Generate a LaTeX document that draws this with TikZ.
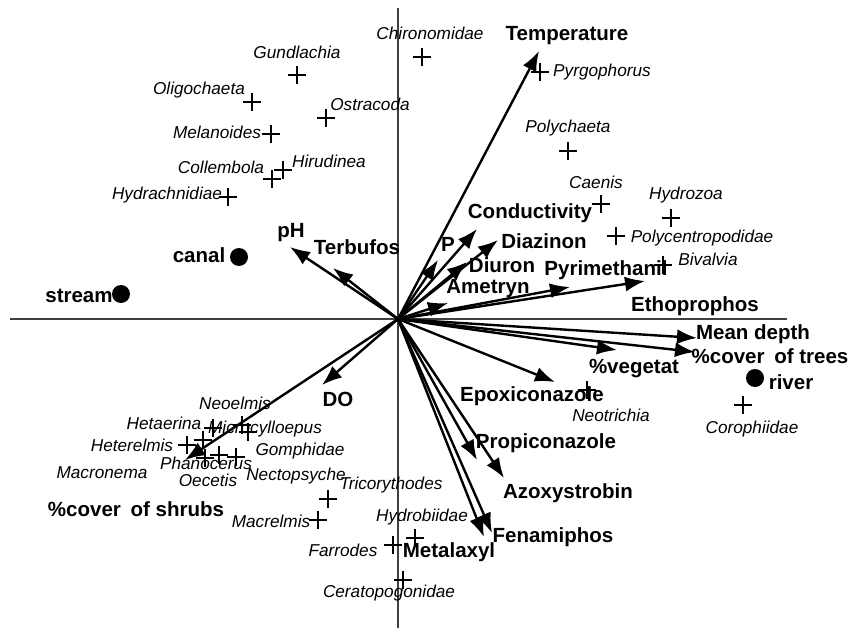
\documentclass[tikz,border=0pt]{standalone}
\usepackage{fontspec}
\setmainfont{Liberation Sans}
\usepackage{tikz}
\usetikzlibrary{arrows.meta}

\begin{document}
\begin{tikzpicture}[x=1pt,y=-1pt]
                      \tikzstyle{var}=[font=\bfseries\fontsize{20.5}{23}\selectfont,inner sep=0pt]
                      \tikzstyle{spp}=[font=\itshape\fontsize{17.2}{20}\selectfont,inner sep=0pt]
                      \tikzstyle{site}=[circle,fill=black,inner sep=0pt,minimum size=18pt]
                      \tikzstyle{taxon}=[inner sep=0pt,minimum size=18pt,path picture={\draw[line width=1.3pt] (path picture bounding box.north) -- (path picture bounding box.south) (path picture bounding box.west) -- (path picture bounding box.east);}]
                      \tikzstyle{vec}=[line width=2.4pt,-{Latex[length=20pt,width=15pt]}]
                      \tikzstyle{axis}=[line width=1.1pt,draw=black!75]
                      \useasboundingbox (0,0) rectangle (859,628);
                      % axes
                      \coordinate (o) at (398,319);
                      \coordinate (ytop) at (398,8);
                      \coordinate (ybot) at (398,628);
                      \coordinate (xlft) at (10,319);
                      \coordinate (xrgt) at (787,319);
                      \draw[axis] (ytop) -- (ybot);
                      \draw[axis] (xlft) -- (xrgt);
                      % arrow tips
                      \coordinate (temp) at (539,51);
                      \coordinate (cond) at (477,229);
                      \coordinate (diaz) at (498,240);
                      \coordinate (pp) at (438,260);
                      \coordinate (diur) at (467,262);
                      \coordinate (amet) at (448,303);
                      \coordinate (pyri) at (570,287);
                      \coordinate (etho) at (645,281);
                      \coordinate (depth) at (697,338);
                      \coordinate (trees) at (695,352);
                      \coordinate (veg) at (617,350);
                      \coordinate (epox) at (555,382);
                      \coordinate (propi) at (477,460);
                      \coordinate (azoxy) at (504,478);
                      \coordinate (fenam) at (492,533);
                      \coordinate (metal) at (484,537);
                      \coordinate (shrub) at (185,460);
                      \coordinate (do) at (322,385);
                      \coordinate (ph) at (290,247);
                      \coordinate (terb) at (333,268);
                      \draw[vec] (o) -- (temp);
                      \draw[vec] (o) -- (cond);
                      \draw[vec] (o) -- (diaz);
                      \draw[vec] (o) -- (pp);
                      \draw[vec] (o) -- (diur);
                      \draw[vec] (o) -- (amet);
                      \draw[vec] (o) -- (pyri);
                      \draw[vec] (o) -- (etho);
                      \draw[vec] (o) -- (depth);
                      \draw[vec] (o) -- (trees);
                      \draw[vec] (o) -- (veg);
                      \draw[vec] (o) -- (epox);
                      \draw[vec] (o) -- (propi);
                      \draw[vec] (o) -- (azoxy);
                      \draw[vec] (o) -- (fenam);
                      \draw[vec] (o) -- (metal);
                      \draw[vec] (o) -- (shrub);
                      \draw[vec] (o) -- (do);
                      \draw[vec] (o) -- (ph);
                      \draw[vec] (o) -- (terb);
                      % variable labels
                      \node[var] (temp-l) at (567,36) {Temperature};
                      \node[var] (cond-l) at (530,213) {Conductivity};
                      \node[var] (pp-l) at (448,244) {P};
                      \node[var] (diaz-l) at (544,241) {Diazinon};
                      \node[var] (diur-l) at (502,265) {Diuron};
                      \node[var] (amet-l) at (488,289) {Ametryn};
                      \node[var] (pyri-l) at (606,270) {Pyrimethanil};
                      \node[var] (etho-l) at (695,306) {Ethoprophos};
                      \node[var] (depth-l) at (753,334) {Mean depth};
                      \node[var] (trees-l) at (770,356) {\%cover\hspace{4pt} of trees};
                      \node[var] (veg-l) at (634,369) {\%vegetat};
                      \node[var] (epox-l) at (532,396) {Epoxiconazole};
                      \node[var] (propi-l) at (546,443) {Propiconazole};
                      \node[var] (azoxy-l) at (568,493) {Azoxystrobin};
                      \node[var] (fenam-l) at (553,537) {Fenamiphos};
                      \node[var] (metal-l) at (449,552) {Metalaxyl};
                      \node[var] (shrub-l) at (136,509) {\%cover\hspace{4pt} of shrubs};
                      \node[var] (do-l) at (338,399) {DO};
                      \node[var] (ph-l) at (291,233) {pH};
                      \node[var] (terb-l) at (357,247) {Terbufos};
                      % sites
                      \node[site] (canal) at (239,257) {};
                      \node[var] (canal-l) at (199,255) {canal};
                      \node[site] (stream) at (121,294) {};
                      \node[var] (stream-l) at (79,296) {stream};
                      \node[site] (river) at (755,378) {};
                      \node[var] (river-l) at (791,382) {river};
                      % taxa
                      \node[taxon] (chir) at (422,57) {};
                      \node[spp] (chir-l) at (430,33) {Chironomidae};
                      \node[taxon] (gund) at (297,75) {};
                      \node[spp] (gund-l) at (297,52) {Gundlachia};
                      \node[taxon] (olig) at (252,102) {};
                      \node[spp] (olig-l) at (199,90) {Oligochaeta};
                      \node[taxon] (ostr) at (326,118) {};
                      \node[spp] (ostr-l) at (370,104) {Ostracoda};
                      \node[taxon] (mela) at (271,134) {};
                      \node[spp] (mela-l) at (217,132) {Melanoides};
                      \node[taxon] (hiru) at (283,170) {};
                      \node[spp] (hiru-l) at (329,161) {Hirudinea};
                      \node[taxon] (coll) at (272,179) {};
                      \node[spp] (coll-l) at (221,167) {Collembola};
                      \node[taxon] (hydr) at (228,197) {};
                      \node[spp] (hydr-l) at (167,195) {Hydrachnidiae};
                      \node[taxon] (pyrg) at (540,72) {};
                      \node[spp] (pyrg-l) at (602,72) {Pyrgophorus};
                      \node[taxon] (poly) at (568,151) {};
                      \node[spp] (poly-l) at (568,128) {Polychaeta};
                      \node[taxon] (caen) at (601,204) {};
                      \node[spp] (caen-l) at (596,182) {Caenis};
                      \node[taxon] (hyzo) at (671,218) {};
                      \node[spp] (hyzo-l) at (686,195) {Hydrozoa};
                      \node[taxon] (pcen) at (616,236) {};
                      \node[spp] (pcen-l) at (702,238) {Polycentropodidae};
                      \node[taxon] (biva) at (663,265) {};
                      \node[spp] (biva-l) at (708,259) {Bivalvia};
                      \node[taxon] (neot) at (587,390) {};
                      \node[spp] (neot-l) at (611,415) {Neotrichia};
                      \node[taxon] (coro) at (743,405) {};
                      \node[spp] (coro-l) at (752,429) {Corophiidae};
                      \node[taxon] (neoe) at (242,425) {};
                      \node[spp] (neoe-l) at (235,403) {Neoelmis};
                      \node[taxon] (heta) at (213,428) {};
                      \node[spp] (heta-l) at (164,423) {Hetaerina};
                      \node[taxon] (micr) at (248,432) {};
                      \node[spp] (micr-l) at (265,429) {Microcylloepus};
                      \node[taxon] (hete) at (187,445) {};
                      \node[spp] (hete-l) at (132,445) {Heterelmis};
                      \node[taxon] (gomp) at (236,457) {};
                      \node[spp] (gomp-l) at (300,451) {Gomphidae};
                      \node[taxon] (phan) at (205,458) {};
                      \node[spp] (phan-l) at (206,463) {Phanocerus};
                      \node[taxon] (macn) at (203,440) {};
                      \node[spp] (macn-l) at (102,473) {Macronema};
                      \node[taxon] (oece) at (219,455) {};
                      \node[spp] (oece-l) at (208,480) {Oecetis};
                      \node[spp] (nect-l) at (296,476) {Nectopsyche};
                      \node[taxon] (tric) at (328,499) {};
                      \node[spp] (tric-l) at (391,485) {Tricorythodes};
                      \node[taxon] (macl) at (318,520) {};
                      \node[spp] (macl-l) at (271,521) {Macrelmis};
                      \node[taxon] (hydb) at (415,538) {};
                      \node[spp] (hydb-l) at (422,517) {Hydrobiidae};
                      \node[taxon] (farr) at (393,545) {};
                      \node[spp] (farr-l) at (343,550) {Farrodes};
                      \node[taxon] (cera) at (403,580) {};
                      \node[spp] (cera-l) at (389,593) {Ceratopogonidae};
                  \end{tikzpicture}
\end{document}
